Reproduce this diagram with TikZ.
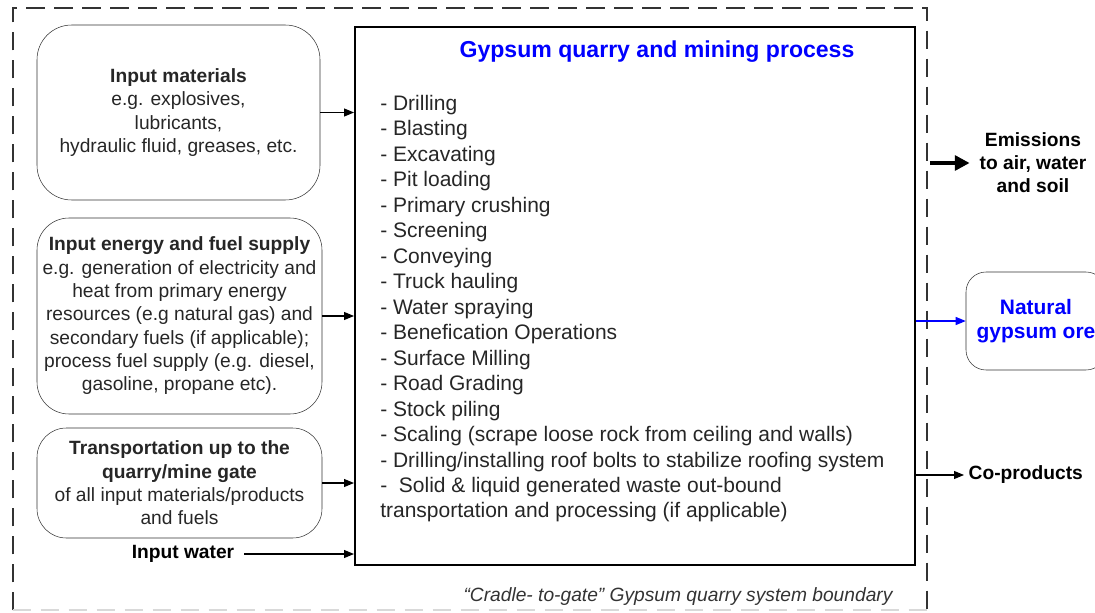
\documentclass[tikz,border=0pt]{standalone}
\usepackage{fontspec}
\setmainfont{Liberation Sans}
\usetikzlibrary{arrows.meta,positioning}

\tikzset{
  inbox/.style={draw=black!80, rounded corners=24pt, align=center, text=black!85,
    font=\fontsize{14.4}{17.5}\selectfont, inner sep=0pt},
  label/.style={font=\fontsize{14.4}{17.3}\selectfont\bfseries, align=center},
  flow/.style={-{Triangle[length=7.5pt,width=6pt]}, line width=0.8pt},
  bound/.style={dash pattern=on 14pt off 7pt, line width=1.6pt}
}

\begin{document}
\begin{tikzpicture}[x=0.75pt, y=-0.75pt]
  \useasboundingbox (0,0) rectangle (1095,613);

  % system boundary
  \node[minimum width=685.5pt, minimum height=451.5pt, inner sep=0pt] (boundary) at (470,309) {};
  \draw[bound, black!80] (boundary.south west) -- (boundary.north west) -- (boundary.north east) -- (boundary.south east);
  \draw[bound, black!15] (boundary.south west) -- (boundary.south east);
  \node[font=\fontsize{14.4}{17}\selectfont\itshape, text=black!80] (caption) at (678,597) {“Cradle- to-gate” Gypsum quarry system boundary};

  % process box
  \node[draw, line width=1.5pt, minimum width=420pt, minimum height=403.5pt, inner sep=0pt] (process) at (635,296) {};
  \node[text=blue, font=\fontsize{17.3}{20}\selectfont\bfseries] (title) at (657,52) {Gypsum quarry and mining process};
  \node[anchor=north west, align=left, inner sep=0pt, text=black!85, font=\fontsize{15.75}{19.1}\selectfont] (steps) at (380,95)
    {- Drilling\\ - Blasting\\ - Excavating\\ - Pit loading\\ - Primary crushing\\ - Screening\\ - Conveying\\ - Truck hauling\\
     - Water spraying\\ - Benefication Operations\\ - Surface Milling\\ - Road Grading\\ - Stock piling\\
     - Scaling (scrape loose rock from ceiling and walls)\\ - Drilling/installing roof bolts to stabilize roofing system\\
     -\ \ Solid \& liquid generated waste out-bound\\ transportation and processing (if applicable)};

  % inputs
  \node[inbox, rounded corners=26pt, minimum width=212.25pt, minimum height=131.25pt] (materials) at (178.5,112.5)
    {\textbf{Input materials}\\ e.g. explosives,\\ lubricants,\\ hydraulic fluid, greases, etc.};
  \node[inbox, minimum width=213.75pt, minimum height=147pt] (energy) at (179.5,316)
    {\textbf{Input energy and fuel supply}\\ e.g. generation of electricity and\\ heat from primary energy\\
     resources (e.g natural gas) and\\ secondary fuels (if applicable);\\ process fuel supply (e.g. diesel,\\ gasoline, propane etc).};
  \node[inbox, rounded corners=22pt, minimum width=213.75pt, minimum height=82.5pt] (transport) at (179.5,483)
    {\textbf{Transportation up to the}\\ \textbf{quarry/mine gate}\\ of all input materials/products\\ and fuels};
  \node[label] (water) at (183,554) {Input water};

  \draw[flow] (materials.east) -- (materials.east -| process.west);
  \draw[flow] (energy.east) -- (energy.east -| process.west);
  \draw[flow] (transport.east) -- (transport.east -| process.west);
  \draw[flow] ([xshift=4pt]water.east) -- (water.east -| process.west);

  % outputs
  \node[label] (emissions) at (1033,163) {Emissions\\ to air, water\\ and soil};
  \draw[-{Triangle[length=11pt,width=11pt]}, line width=3pt] ([xshift=2pt]emissions.west -| boundary.east) -- ([xshift=-4pt]emissions.west);

  \node[draw=black!80, rounded corners=15pt, align=center, text=blue, font=\fontsize{15.7}{18}\selectfont\bfseries,
    minimum width=105pt, minimum height=73.5pt, inner sep=0pt] (ore) at (1036,321) {Natural\\ gypsum ore};
  \draw[flow, blue] (ore.west -| process.east) -- (ore.west);

  \node[label, anchor=west] (coproducts) at (964,475) {Co-products};
  \draw[flow] (coproducts.west -| process.east) -- (coproducts.west);
\end{tikzpicture}
\end{document}
